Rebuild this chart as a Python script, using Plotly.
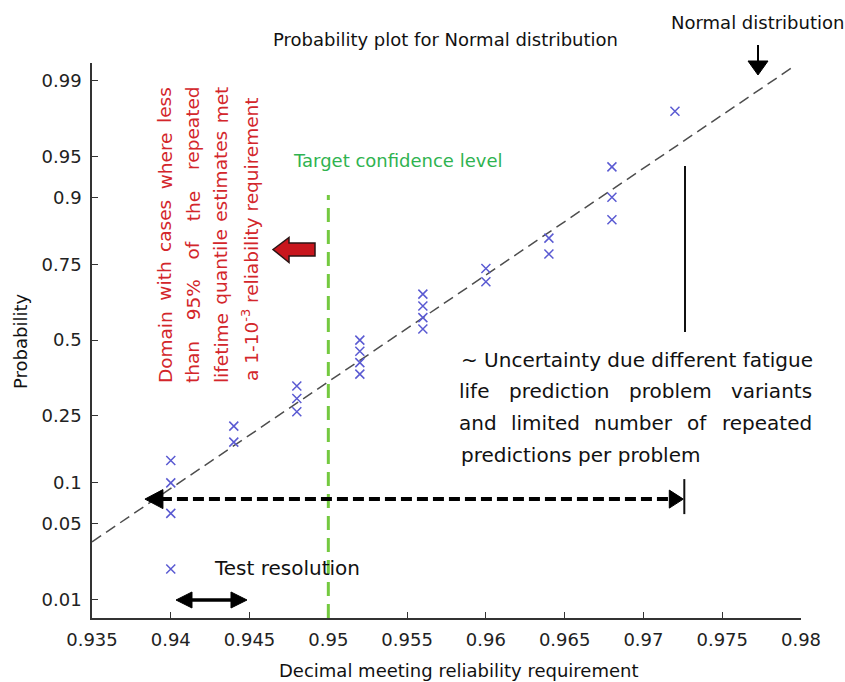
import plotly.graph_objects as go
from statistics import NormalDist

_nd = NormalDist()


def probit(p):
    return _nd.inv_cdf(p)


# Decimal fraction of predictions meeting the reliability requirement (sorted)
reliability = [0.940, 0.940, 0.940, 0.940, 0.944, 0.944, 0.948, 0.948, 0.948,
               0.952, 0.952, 0.952, 0.952, 0.956, 0.956, 0.956, 0.956,
               0.960, 0.960, 0.964, 0.964, 0.968, 0.968, 0.968, 0.972]
# Plotting position (cumulative probability) of each sorted value
plot_prob = [0.02, 0.06, 0.10, 0.14, 0.18, 0.22, 0.26, 0.30, 0.34,
             0.38, 0.42, 0.46, 0.50, 0.54, 0.58, 0.62, 0.66,
             0.70, 0.74, 0.78, 0.82, 0.86, 0.90, 0.94, 0.98]

prob_ticks = [0.01, 0.05, 0.1, 0.25, 0.5, 0.75, 0.9, 0.95, 0.99]
prob_tick_text = ["0.01", "0.05", "0.1", "0.25", "0.5", "0.75", "0.9", "0.95", "0.99"]
x_ticks = [0.935, 0.94, 0.945, 0.95, 0.955, 0.96, 0.965, 0.97, 0.975, 0.98]
x_tick_text = ["0.935", "0.94", "0.945", "0.95", "0.955", "0.96", "0.965", "0.97", "0.975", "0.98"]

# Normal reference line
fit_mu = 0.9539
fit_sigma = 0.01044
fit_x = [0.935, 0.9794]

target_level = 0.95
target_top_prob = 0.9035
uncertainty_span = [0.93836, 0.97253]
uncertainty_prob = 0.0768

# ---- geometry of the plotting area (pixels) ----
W, H = 845, 682
L, R, T, B = 92, 801, 63, 618
X0, X1 = 0.935, 0.98
Z0, Z1 = -2.494, 2.487

FONT = "DejaVu Sans"

# DejaVu Sans advance widths (fraction of em) used to justify text lines
CHAR_W = {" ": .318, "%": .950, "-": .361, "D": .770, "a": .613, "b": .635, "c": .550,
          "d": .635, "e": .615, "f": .352, "g": .635, "h": .634, "i": .278, "l": .278,
          "m": .974, "n": .634, "o": .612, "p": .635, "q": .635, "r": .411, "s": .521,
          "t": .392, "u": .634, "v": .592, "w": .818, "y": .592}


def word_width(word, size):
    return sum(CHAR_W.get(ch, .636) for ch in word) * size


def xpx(v):
    return L + (v - X0) / (X1 - X0) * (R - L)


def ypx(p):
    return B - (probit(p) - Z0) / (Z1 - Z0) * (B - T)


def pap(x, y):
    return (x - L) / (R - L), (B - y) / (B - T)


def path(points):
    parts = []
    for i, (x, y) in enumerate(points):
        px, py = pap(x, y)
        parts.append(("M" if i == 0 else "L") + f"{px:.5f},{py:.5f}")
    return " ".join(parts) + " Z"


fig = go.Figure()

fit_z = [(v - fit_mu) / fit_sigma for v in fit_x]
fig.add_trace(go.Scatter(
    x=fit_x, y=fit_z, mode="lines",
    line=dict(color="#4d4d4d", width=1.5, dash="11px,6px"),
    hoverinfo="skip", showlegend=False))

fig.add_trace(go.Scatter(
    x=reliability, y=[probit(p) for p in plot_prob], mode="markers",
    marker=dict(symbol="x-thin", size=9, line=dict(color="#5a5ad2", width=1.5)),
    showlegend=False))

shapes = []

# target confidence level
shapes.append(dict(type="line", xref="x", yref="y",
                   x0=target_level, x1=target_level, y0=Z0, y1=probit(target_top_prob),
                   line=dict(color="#74c940", width=3, dash="14px,8px")))

# horizontal uncertainty arrow
ya = ypx(uncertainty_prob)
xl, xr = xpx(uncertainty_span[0]), xpx(uncertainty_span[1])
p0 = pap(xl + 16, ya)
p1 = pap(xr - 13, ya)
shapes.append(dict(type="line", xref="paper", yref="paper",
                   x0=p0[0], y0=p0[1], x1=p1[0], y1=p1[1],
                   line=dict(color="#000000", width=4, dash="11px,5px")))
shapes.append(dict(type="path", xref="paper", yref="paper",
                   path=path([(xl, ya), (xl + 18, ya - 9.5), (xl + 18, ya + 9.5)]),
                   fillcolor="#000000", line=dict(color="#000000", width=1)))
shapes.append(dict(type="path", xref="paper", yref="paper",
                   path=path([(xr, ya), (xr - 14, ya - 9), (xr - 14, ya + 9)]),
                   fillcolor="#000000", line=dict(color="#000000", width=1)))
b0, b1 = pap(xr + 1, ya - 20), pap(xr + 1, ya + 15)
shapes.append(dict(type="line", xref="paper", yref="paper",
                   x0=b0[0], y0=b0[1], x1=b1[0], y1=b1[1],
                   line=dict(color="#111111", width=2)))

# vertical uncertainty marker
v0, v1 = pap(685, 166), pap(685, 332)
shapes.append(dict(type="line", xref="paper", yref="paper",
                   x0=v0[0], y0=v0[1], x1=v1[0], y1=v1[1],
                   line=dict(color="#111111", width=2)))

# red block arrow
shapes.append(dict(type="path", xref="paper", yref="paper",
                   path=path([(273, 249.5), (289, 237.5), (289, 243), (315, 243),
                              (315, 256), (289, 256), (289, 262.5)]),
                   fillcolor="#c8161d", line=dict(color="#2b1515", width=1.5)))

# "Normal distribution" pointer
s0, s1 = pap(758, 45), pap(758, 63)
shapes.append(dict(type="line", xref="paper", yref="paper",
                   x0=s0[0], y0=s0[1], x1=s1[0], y1=s1[1],
                   line=dict(color="#000000", width=2)))
shapes.append(dict(type="path", xref="paper", yref="paper",
                   path=path([(758, 75), (748, 61), (768, 61)]),
                   fillcolor="#000000", line=dict(color="#000000", width=1)))

# test resolution double arrow
yr = 600
d0, d1 = pap(190, yr), pap(233, yr)
shapes.append(dict(type="line", xref="paper", yref="paper",
                   x0=d0[0], y0=d0[1], x1=d1[0], y1=d1[1],
                   line=dict(color="#000000", width=3.5)))
shapes.append(dict(type="path", xref="paper", yref="paper",
                   path=path([(176, yr), (192, yr - 8), (192, yr + 8)]),
                   fillcolor="#000000", line=dict(color="#000000", width=1)))
shapes.append(dict(type="path", xref="paper", yref="paper",
                   path=path([(247, yr), (231, yr - 8), (231, yr + 8)]),
                   fillcolor="#000000", line=dict(color="#000000", width=1)))

annotations = []


def text(s, x, y, size=18, color="#111111", xa="center", ya="middle", angle=0):
    px, py = pap(x, y)
    annotations.append(dict(text=s, x=px, y=py, xref="paper", yref="paper",
                            xanchor=xa, yanchor=ya, textangle=angle, showarrow=False,
                            font=dict(family=FONT, size=size, color=color)))


def justified_row(line, start, end, y, size, color="#111111"):
    """Horizontal line whose words are spread from pixel start to end."""
    words = line.split()
    widths = [word_width(w, size) for w in words]
    gap = (end - start - sum(widths)) / (len(words) - 1)
    pos = start
    for w, wd in zip(words, widths):
        text(w, pos + wd / 2, y, size, color)
        pos += wd + gap


def justified_column(line, bottom, top, x, size, color):
    """Vertical line read bottom to top, words spread from bottom to top."""
    words = line.split()
    widths = [word_width(w, size) for w in words]
    gap = (bottom - top - sum(widths)) / (len(words) - 1)
    pos = bottom
    for w, wd in zip(words, widths):
        text(w, x, pos - wd / 2, size, color, angle=-90)
        pos -= wd + gap


text("Probability plot for Normal distribution", 445, 39, 18)
text("Normal distribution", 757, 22, 18)
text("Probability", 20, 342, 18, angle=-90)
text("Decimal meeting reliability requirement", 458, 670, 18)
text("Target confidence level", 397, 160, 18, color="#2fb350")
text("Test resolution", 287, 568, 20)

# uncertainty note
UC = 20
text("~ Uncertainty due different fatigue", 459, 360, UC, xa="left")
justified_row("life prediction problem variants", 459, 812, 391, UC)
justified_row("and limited number of repeated", 459, 812, 423, UC)
text("predictions per problem", 459, 455, UC, xa="left")

# rotated red domain note
RC = 18.5
RED = "#d3262b"
justified_column("Domain with cases where less", 383, 87, 165, RC, RED)
justified_column("than 95% of the repeated", 383, 87, 193, RC, RED)
justified_column("lifetime quantile estimates met", 383, 87, 221, RC, RED)
text("a 1-10<sup>-3</sup> reliability requirement", 250, 383, RC, RED, ya="bottom", angle=-90)

axis_common = dict(showgrid=False, zeroline=False, showline=True, linecolor="#333333",
                   linewidth=1.5, ticks="inside", ticklen=6, tickwidth=1.3,
                   tickcolor="#333333", mirror=False, ticklabelstandoff=5,
                   tickfont=dict(family=FONT, size=18, color="#222222"))

fig.update_layout(
    width=W, height=H,
    margin=dict(l=L, r=W - R, t=T, b=H - B),
    paper_bgcolor="white", plot_bgcolor="white",
    xaxis=dict(range=[X0, X1], tickvals=x_ticks, ticktext=x_tick_text, **axis_common),
    yaxis=dict(range=[Z0, Z1], tickvals=[probit(p) for p in prob_ticks],
               ticktext=prob_tick_text, **axis_common),
    shapes=shapes,
    annotations=annotations,
    showlegend=False,
)

fig.write_html("out.html")
